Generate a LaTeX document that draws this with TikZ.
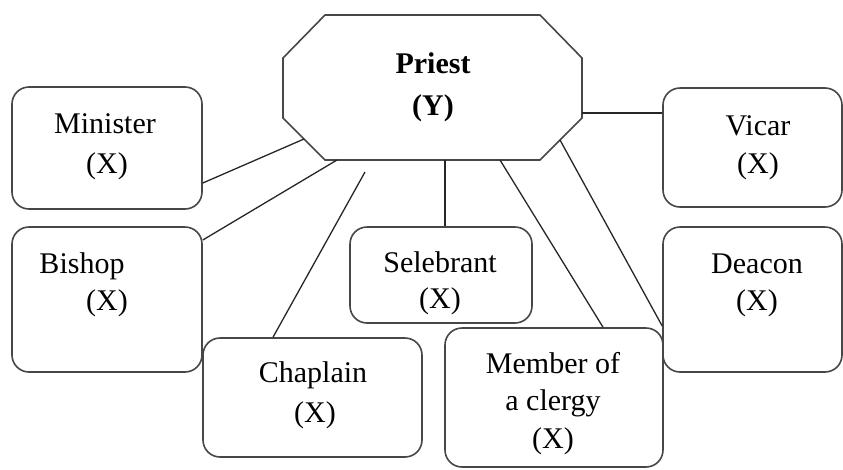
\documentclass[tikz,border=0pt]{standalone}
\usepackage{fontspec}
\setmainfont{Liberation Serif}
\usetikzlibrary{calc}
\begin{document}
\begin{tikzpicture}[x=1pt,y=-1pt,
  box/.style={draw=black!72, line width=1.6pt, rounded corners=17pt, inner sep=0pt},
  hub/.style={draw=black!72, line width=1.6pt, line join=miter},
  link/.style={draw=black!85, line width=1.3pt},
  txt/.style={anchor=base, inner sep=0pt, font=\fontsize{30}{36}\selectfont},
  bold/.style={txt, font=\fontsize{30}{36}\selectfont\bfseries},
]
\useasboundingbox (0,0) rectangle (843,469);

% central octagon
\draw[hub] (325,15) -- (540,15) -- (582,58) -- (582,118) -- (540,160)
  -- (325,160) -- (283,118) -- (283,58) -- cycle;
\coordinate (hub-w)  at (304,139);
\coordinate (hub-b1) at (337,160);
\coordinate (hub-b2) at (445,160);
\coordinate (hub-b3) at (500,160);
\coordinate (hub-e)  at (582,113);
\coordinate (hub-se) at (560,140);
\coordinate (chap-end) at (365,172);
\node[bold] (priest1) at (433,73) {Priest};
\node[bold] (priest2) at (433,115) {(Y)};

% surrounding boxes
\node[box, minimum width=190pt, minimum height=122pt] (minister) at (107,148) {};
\node[box, minimum width=190pt, minimum height=145pt] (bishop) at (107,299.5) {};
\node[box, minimum width=219pt, minimum height=119pt] (chaplain) at (312.5,397.5) {};
\node[box, minimum width=182pt, minimum height=96pt] (selebrant) at (441,275) {};
\node[box, minimum width=218pt, minimum height=139pt] (member) at (554,397.5) {};
\node[box, minimum width=179pt, minimum height=119pt] (vicar) at (752.5,147.5) {};
\node[box, minimum width=179pt, minimum height=145pt] (deacon) at (752.5,299.5) {};

% labels
\node[txt] (minister1) at (105,133) {Minister};
\node[txt] (minister2) at (107,173) {(X)};
\node[txt] (bishop1) at (82,273) {Bishop};
\node[txt] (bishop2) at (107,310) {(X)};
\node[txt] (chaplain1) at (313,382) {Chaplain};
\node[txt] (chaplain2) at (315,422) {(X)};
\node[txt] (selebrant1) at (440,272) {Selebrant};
\node[txt] (selebrant2) at (440,308) {(X)};
\node[txt] (member1) at (553,373) {Member of};
\node[txt] (member2) at (553,410) {a clergy};
\node[txt] (member3) at (553,448) {(X)};
\node[txt] (vicar1) at (758,135) {Vicar};
\node[txt] (vicar2) at (758,173) {(X)};
\node[txt] (deacon1) at (757,273) {Deacon};
\node[txt] (deacon2) at (757,310) {(X)};

% connectors
\draw[link] ([yshift=-35pt]minister.east) -- (hub-w);
\draw[link] ([yshift=59.5pt]bishop.east) -- (hub-b1);
\draw[link] ([xshift=-39.5pt]chaplain.north) -- (chap-end);
\draw[link] ([xshift=4pt]selebrant.north) -- (hub-b2);
\draw[link] ([xshift=49pt]member.north) -- (hub-b3);
\draw[link] ([yshift=34.5pt]vicar.west) -- (hub-e);
\draw[link] ([yshift=-26.5pt]deacon.west) -- (hub-se);
\end{tikzpicture}
\end{document}
